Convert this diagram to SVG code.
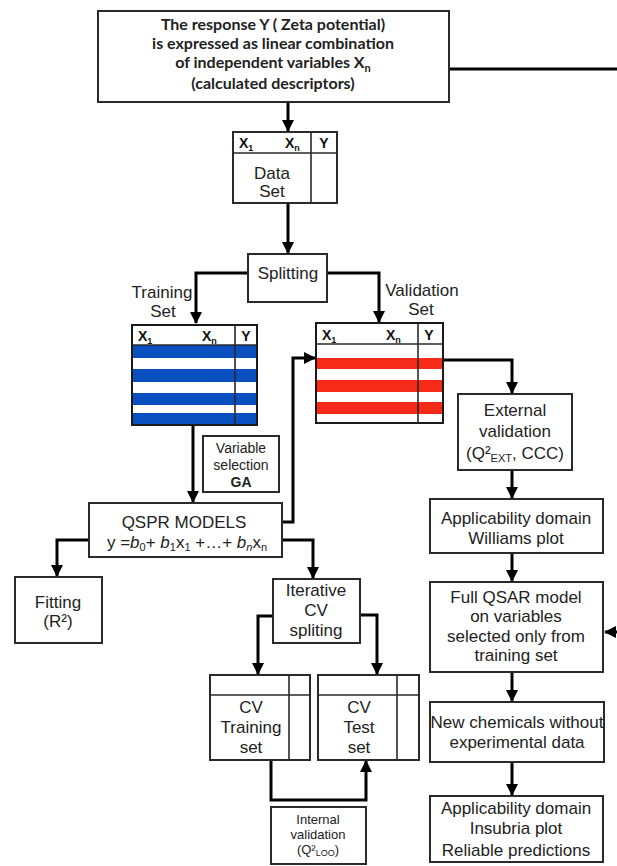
<svg xmlns="http://www.w3.org/2000/svg" width="617" height="866" viewBox="0 0 617 866">
<style>
.box{fill:#fff;stroke:#2a2a2a;stroke-width:2}
.ln{fill:none;stroke:#2a2a2a;stroke-width:1.6}
.c{fill:none;stroke:#000;stroke-width:3}
.t{font-family:"Liberation Sans",Arial,sans-serif;font-size:17px;fill:#222;text-anchor:middle}
.s{font-size:14px}
.xs{font-size:13px}
.h{font-family:"Liberation Sans",Arial,sans-serif;font-size:14px;font-weight:bold;fill:#111}
.top{font-family:Lato,"Open Sans",sans-serif;font-size:16px;font-weight:bold;fill:#222;text-anchor:middle}
</style>
<defs>
<marker id="ah" markerUnits="userSpaceOnUse" markerWidth="12" markerHeight="12" refX="11" refY="6" orient="auto">
<path d="M0,0 L12,6 L0,12 z" fill="#000"/>
</marker>
</defs>
<rect width="617" height="866" fill="#fff"/>

<g id="connectors">
<path class="c" d="M288,102 L288,131" marker-end="url(#ah)"/>
<path class="c" d="M449,69 L617,69"/>
<path class="c" d="M288,203 L288,253" marker-end="url(#ah)"/>
<path class="c" d="M248,273 L196,273 L196,323" marker-end="url(#ah)"/>
<path class="c" d="M327,273 L379,273 L379,322" marker-end="url(#ah)"/>
<path class="c" d="M193,425 L193,502" marker-end="url(#ah)"/>
<path class="c" d="M282,522 L293,522 L293,358 L315,358" marker-end="url(#ah)"/>
<path class="c" d="M443,360 L512,360 L512,393" marker-end="url(#ah)"/>
<path class="c" d="M512,470 L512,498" marker-end="url(#ah)"/>
<path class="c" d="M512,553 L512,581" marker-end="url(#ah)"/>
<path class="c" d="M512,672 L512,701" marker-end="url(#ah)"/>
<path class="c" d="M512,762 L512,795" marker-end="url(#ah)"/>
<path class="c" d="M617,632 L605,632" marker-end="url(#ah)"/>
<path class="c" d="M89,540 L57,540 L57,576" marker-end="url(#ah)"/>
<path class="c" d="M282,540 L313,540 L313,578" marker-end="url(#ah)"/>
<path class="c" d="M273,616 L258,616 L258,674" marker-end="url(#ah)"/>
<path class="c" d="M360,615 L377,615 L377,674" marker-end="url(#ah)"/>
<path class="c" d="M271,760 L271,800 L366,800 L366,761" marker-end="url(#ah)"/>
</g>

<g id="top">
<rect class="box" x="98" y="11" width="351" height="91"/>
<text class="top" x="273" y="30">The response Y ( Zeta potential)</text>
<text class="top" x="273" y="49">is expressed as linear combination</text>
<text class="top" x="273" y="68">of independent variables X<tspan font-size="11" dy="4">n</tspan></text>
<text class="top" x="273" y="89">(calculated descriptors)</text>
</g>

<g id="dataset">
<rect class="box" x="233" y="132" width="104" height="71"/>
<path class="ln" d="M233,153 L337,153 M311,132 L311,203"/>
<text class="h" x="239" y="148">X<tspan font-size="9" dy="3">1</tspan></text>
<text class="h" x="285" y="148">X<tspan font-size="9" dy="3">n</tspan></text>
<text class="h" x="324" y="148" text-anchor="middle">Y</text>
<text class="t" x="272" y="179">Data</text>
<text class="t" x="272" y="197">Set</text>
</g>

<g id="splitting">
<rect class="box" x="248" y="254" width="79" height="48"/>
<text class="t" x="288" y="279">Splitting</text>
</g>

<g id="labels">
<text class="t" x="162" y="298">Training</text>
<text class="t" x="163" y="317">Set</text>
<text class="t" x="422" y="296">Validation</text>
<text class="t" x="421" y="315">Set</text>
</g>

<g id="training">
<rect x="132" y="345" width="125" height="80" fill="#0a4fbf"/>
<rect x="132" y="358" width="125" height="11" fill="#fff"/>
<rect x="132" y="382" width="125" height="11" fill="#fff"/>
<rect x="132" y="405" width="125" height="8" fill="#fff"/>
<rect x="132" y="325" width="125" height="100" fill="none" stroke="#1a1a1a" stroke-width="2"/>
<path class="ln" d="M132,345 L257,345 M235,325 L235,425" stroke="#111"/>
<text class="h" x="138" y="341">X<tspan font-size="9" dy="3">1</tspan></text>
<text class="h" x="202" y="341">X<tspan font-size="9" dy="3">n</tspan></text>
<text class="h" x="246" y="341" text-anchor="middle">Y</text>
</g>

<g id="validation">
<rect x="316" y="358" width="127" height="11" fill="#f52a18"/>
<rect x="316" y="380" width="127" height="12" fill="#f52a18"/>
<rect x="316" y="402" width="127" height="12" fill="#f52a18"/>
<rect x="316" y="323" width="127" height="100" fill="none" stroke="#1a1a1a" stroke-width="2"/>
<path class="ln" d="M316,344 L443,344 M418,323 L418,423" stroke="#111"/>
<text class="h" x="322" y="340">X<tspan font-size="9" dy="3">1</tspan></text>
<text class="h" x="386" y="340">X<tspan font-size="9" dy="3">n</tspan></text>
<text class="h" x="429" y="340" text-anchor="middle">Y</text>
</g>

<g id="varsel">
<rect class="box" x="203" y="436" width="76" height="56"/>
<text class="t s" x="241" y="453">Variable</text>
<text class="t s" x="241" y="470">selection</text>
<text class="t s" x="241" y="487" font-weight="bold">GA</text>
</g>

<g id="qspr">
<rect class="box" x="89" y="503" width="193" height="54"/>
<text class="t" x="184" y="528">QSPR MODELS</text>
<text class="t" x="187" y="548">y =<tspan font-style="italic">b</tspan><tspan font-size="11" dy="3">0</tspan><tspan dy="-3">+ </tspan><tspan font-style="italic">b</tspan><tspan font-size="11" dy="3">1</tspan><tspan dy="-3">x</tspan><tspan font-size="11" dy="3">1</tspan><tspan dy="-3"> +…+ </tspan><tspan font-style="italic">b</tspan><tspan font-size="11" font-style="italic" dy="3">n</tspan><tspan dy="-3">x</tspan><tspan font-size="11" dy="3">n</tspan></text>
</g>

<g id="fitting">
<rect class="box" x="15" y="577" width="87" height="66"/>
<text class="t" x="58" y="608">Fitting</text>
<text class="t" x="58" y="627">(R²)</text>
</g>

<g id="iterative">
<rect class="box" x="273" y="579" width="87" height="64"/>
<text class="t" x="316" y="596">Iterative</text>
<text class="t" x="316" y="616">CV</text>
<text class="t" x="316" y="636">spliting</text>
</g>

<g id="cvtraining">
<rect class="box" x="210" y="675" width="100" height="85"/>
<path class="ln" d="M210,695 L310,695 M289,675 L289,760"/>
<text class="t" x="251" y="713">CV</text>
<text class="t" x="251" y="733">Training</text>
<text class="t" x="251" y="753">set</text>
</g>

<g id="cvtest">
<rect class="box" x="318" y="675" width="101" height="85"/>
<path class="ln" d="M318,695 L419,695 M397,675 L397,760"/>
<text class="t" x="359" y="713">CV</text>
<text class="t" x="359" y="733">Test</text>
<text class="t" x="359" y="753">set</text>
</g>

<g id="internal">
<rect class="box" x="271" y="807" width="95" height="57"/>
<text class="t xs" x="318" y="824">Internal</text>
<text class="t xs" x="318" y="839">validation</text>
<text class="t xs" x="318" y="854">(Q²<tspan font-size="9" dy="2">LOO</tspan><tspan dy="-2">)</tspan></text>
</g>

<g id="external">
<rect class="box" x="458" y="394" width="114" height="76"/>
<text class="t" x="515" y="416">External</text>
<text class="t" x="515" y="437">validation</text>
<text class="t" x="515" y="459">(Q²<tspan font-size="11" dy="3">EXT</tspan><tspan dy="-3">, CCC)</tspan></text>
</g>

<g id="williams">
<rect class="box" x="430" y="499" width="173" height="54"/>
<text class="t" x="516" y="524">Applicability domain</text>
<text class="t" x="516" y="544">Williams plot</text>
</g>

<g id="fullqsar">
<rect class="box" x="430" y="582" width="173" height="90"/>
<text class="t" x="516" y="603">Full QSAR model</text>
<text class="t" x="516" y="622">on variables</text>
<text class="t" x="516" y="642">selected only from</text>
<text class="t" x="516" y="661">training set</text>
</g>

<g id="newchem">
<rect class="box" x="430" y="702" width="174" height="60"/>
<text class="t" x="517" y="728">New chemicals without</text>
<text class="t" x="517" y="748">experimental data</text>
</g>

<g id="insubria">
<rect class="box" x="430" y="796" width="173" height="66"/>
<text class="t" x="516" y="814">Applicability domain</text>
<text class="t" x="516" y="834">Insubria plot</text>
<text class="t" x="516" y="856">Reliable predictions</text>
</g>
</svg>
